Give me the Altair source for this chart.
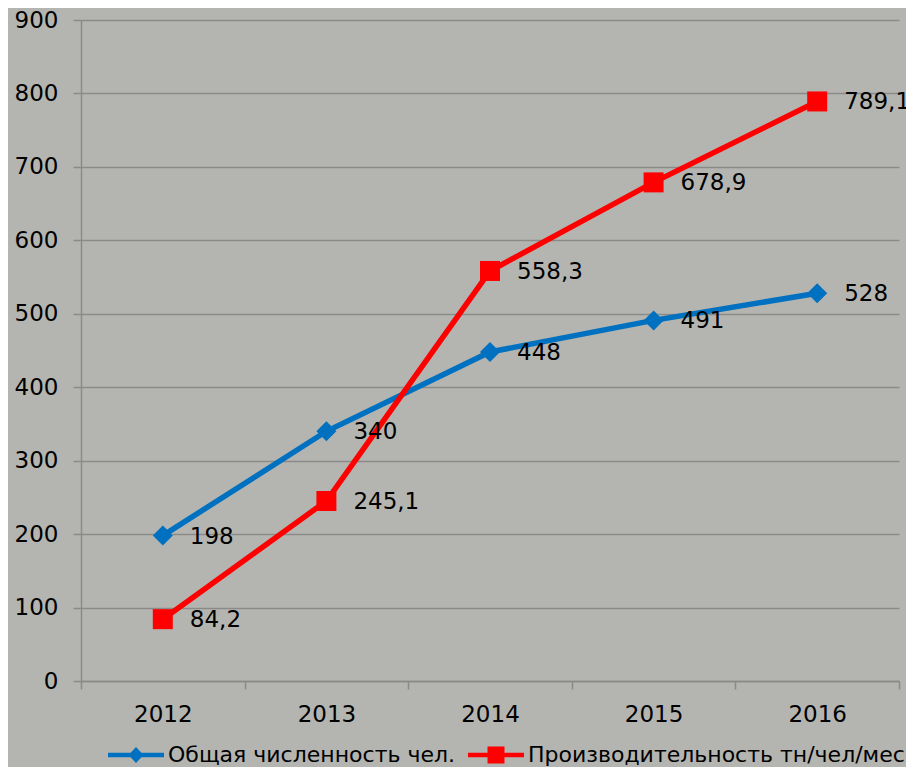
import altair as alt
import pandas as pd

years = ["2012", "2013", "2014", "2015", "2016"]
series_names = ["Общая численность чел.", "Производительность тн/чел/мес."]
headcount = [198, 340, 448, 491, 528]
productivity = [84.2, 245.1, 558.3, 678.9, 789.1]
colors = ["#0070C0", "#FF0000"]
y_ticks = [0, 100, 200, 300, 400, 500, 600, 700, 800, 900]

rows = []
for name, vals in zip(series_names, [headcount, productivity]):
    for yr, v in zip(years, vals):
        rows.append({"year": yr, "series": name, "value": v,
                     "label": f"{v:g}".replace(".", ",")})
df = pd.DataFrame(rows)

# legend symbols: a line segment with the series marker in the middle
legend_paths = [
    "M-2.8,-0.22H2.8V0.22H-2.8Z M-0.75,0L0,-0.8L0.75,0L0,0.8Z",
    "M-2.8,-0.22H2.8V0.22H-2.8Z M-0.85,-0.85H0.85V0.85H-0.85Z",
]
legend_df = pd.DataFrame({"series": series_names, "color": colors, "symbol": legend_paths})

FONT = "DejaVu Sans"
GRID = "#8a8a88"

x_enc = alt.X(
    "year:N", sort=years, bandPosition=0.5,
    scale=alt.Scale(type="band", paddingInner=0, paddingOuter=0),
    axis=alt.Axis(title=None, tickBand="extent", labelAngle=0, grid=False,
                  domainColor=GRID, domainWidth=1.5, tickColor=GRID, tickWidth=1.5,
                  tickSize=8, labelPadding=14, labelFont=FONT, labelFontSize=23,
                  labelColor="black"),
)
y_enc = alt.Y(
    "value:Q", scale=alt.Scale(domain=[0, 900], nice=False, zero=True),
    axis=alt.Axis(title=None, values=y_ticks, grid=True, gridColor=GRID, gridWidth=1.5,
                  domainColor=GRID, domainWidth=1.5, tickColor=GRID, tickWidth=1.5,
                  tickSize=8, labelPadding=15, labelFont=FONT, labelFontSize=23,
                  labelColor="black"),
)

base = alt.Chart(df)

lines = base.mark_line(strokeWidth=5.5).encode(
    x=x_enc, y=y_enc,
    stroke=alt.Stroke("series:N", scale=alt.Scale(domain=series_names, range=colors),
                      legend=None),
    detail="series:N",
)

pts_blue = base.transform_filter(alt.datum.series == series_names[0]).mark_point(
    shape="diamond", filled=True, size=400, opacity=1, color=colors[0]
).encode(x=x_enc, y=y_enc)

pts_red = base.transform_filter(alt.datum.series == series_names[1]).mark_point(
    shape="square", filled=True, size=400, opacity=1, color=colors[1]
).encode(x=x_enc, y=y_enc)

labels = base.mark_text(align="left", baseline="middle", dx=27, dy=1,
                        font=FONT, fontSize=23, color="black").encode(
    x=x_enc, y=y_enc, text="label:N"
)

main = alt.layer(lines, pts_blue, pts_red, labels)

# hand-built legend row below the x axis
leg_x = alt.X("series:N", sort=series_names, axis=None,
              scale=alt.Scale(type="point", domain=series_names, range=[55, 415], padding=0))
leg_base = alt.Chart(legend_df)
leg_symbols = leg_base.mark_point(filled=True, size=400, opacity=1, strokeWidth=0).encode(
    x=leg_x, y=alt.value(735),
    fill=alt.Fill("color:N", scale=None),
    shape=alt.Shape("symbol:N", scale=None),
)
leg_text = leg_base.mark_text(align="left", baseline="middle", dx=32,
                              font=FONT, fontSize=22, color="black").encode(
    x=leg_x, y=alt.value(735), text="series:N"
)
legend = alt.layer(leg_symbols, leg_text)

chart = alt.layer(main, legend).resolve_scale(x="independent").properties(
    width=818, height=661,
    autosize=alt.AutoSizeParams(type="none"),
    padding={"left": 73, "top": 12, "right": 7, "bottom": 86},
    background="#b4b5b0",
).configure_view(stroke=None)

chart.save("out.html", embed_options={"renderer": "svg", "actions": False})
